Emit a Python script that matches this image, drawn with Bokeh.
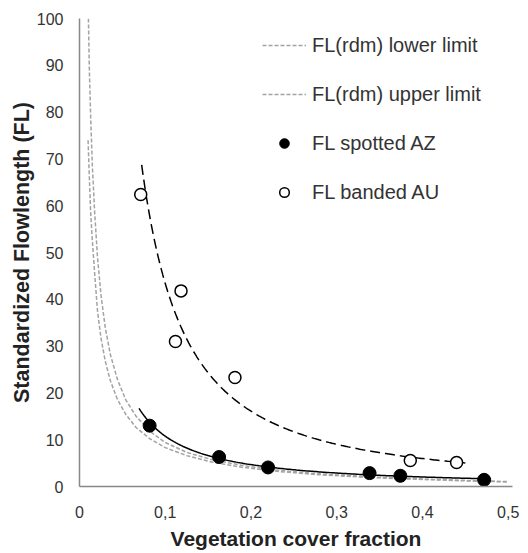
import numpy as np
from bokeh.plotting import figure
from bokeh.models import Range1d, Legend, LegendItem, FixedTicker
from bokeh.embed import file_html
from bokeh.resources import INLINE

# ---- data ----
SPOTTED_X = [0.0818, 0.1628, 0.2199, 0.3383, 0.3742, 0.4719]
SPOTTED_Y = [13.0, 6.3, 4.07, 2.86, 2.29, 1.43]

BANDED_X = [0.0714, 0.1184, 0.1119, 0.1813, 0.3858, 0.4398]
BANDED_Y = [62.4, 41.8, 31.0, 23.3, 5.56, 5.13]

# FL(rdm) limits
UPPER_X = [0.0104, 0.0115, 0.013, 0.015, 0.0177, 0.021, 0.025, 0.03, 0.036, 0.044,
           0.054, 0.066, 0.082, 0.1, 0.125, 0.155, 0.19, 0.23, 0.28, 0.34, 0.4, 0.46, 0.5]
UPPER_Y = [100, 89, 79, 68.5, 58.5, 49, 41, 34, 28.2, 23,
           18.5, 15, 11.8, 9.4, 7.3, 5.7, 4.5, 3.5, 2.7, 2.05, 1.6, 1.25, 1.05]
LOWER_X = [0.0100, 0.0115, 0.013, 0.015, 0.0177, 0.021, 0.025, 0.03, 0.036, 0.044,
           0.054, 0.066, 0.082, 0.1, 0.125, 0.155, 0.19, 0.23, 0.28, 0.34, 0.4, 0.46, 0.5]
LOWER_Y = [74, 66, 58.5, 52.5, 45.5, 37.5, 31.8, 26.8, 22.6, 18.7,
           15.4, 12.6, 10.2, 8.3, 6.6, 5.2, 4.1, 3.25, 2.5, 1.9, 1.5, 1.15, 0.98]

X_TICKS = [0, 0.1, 0.2, 0.3, 0.4, 0.5]
X_TICK_LABELS = ["0", "0,1", "0,2", "0,3", "0,4", "0,5"]
Y_TICKS = [0, 10, 20, 30, 40, 50, 60, 70, 80, 90, 100]

SPOTTED_TREND_RANGE = (0.0694, 0.48)
BANDED_TREND_RANGE = (0.0725, 0.45)


def power_trend(xs, ys, rng, n=200):
    b, lna = np.polyfit(np.log(xs), np.log(ys), 1)
    tx = np.linspace(rng[0], rng[1], n)
    return tx, np.exp(lna) * tx ** b


FONT = "Liberation Sans"

p = figure(width=520, height=552, x_range=Range1d(0, 0.505), y_range=Range1d(0, 100),
           output_backend="svg", toolbar_location=None,
           min_border_left=79, min_border_right=8, min_border_top=18, min_border_bottom=66)
p.outline_line_color = None
p.xgrid.visible = False
p.ygrid.visible = False

grey = "#a3a3a3"
r_low = p.line(LOWER_X, LOWER_Y, line_color=grey, line_width=1.5, line_dash="4 2")
r_up = p.line(UPPER_X, UPPER_Y, line_color=grey, line_width=1.5, line_dash="4 2")

sx, sy = power_trend(SPOTTED_X, SPOTTED_Y, SPOTTED_TREND_RANGE)
p.line(sx, sy, line_color="black", line_width=1.5)
bx, by = power_trend(BANDED_X, BANDED_Y, BANDED_TREND_RANGE)
p.line(bx, by, line_color="black", line_width=1.5, line_dash="10 5")

r_sp = p.scatter(SPOTTED_X, SPOTTED_Y, size=13, fill_color="black", line_color="black")
r_bd = p.scatter(BANDED_X, BANDED_Y, size=12, fill_color="white", line_color="black",
                 line_width=1.5)

for ax in (p.xaxis[0], p.yaxis[0]):
    ax.axis_line_color = "#888888"
    ax.axis_line_width = 1.5
    ax.major_tick_line_color = None
    ax.minor_tick_line_color = None
    ax.major_tick_out = 0
    ax.major_tick_in = 0
    ax.major_label_text_font = FONT
    ax.major_label_text_font_size = "16px"
    ax.major_label_text_color = "#333333"
    ax.axis_label_text_font = FONT
    ax.axis_label_text_font_style = "bold"
    ax.axis_label_text_color = "#222222"

p.xaxis[0].ticker = FixedTicker(ticks=X_TICKS)
p.xaxis[0].major_label_overrides = dict(zip(X_TICKS, X_TICK_LABELS))
p.xaxis[0].axis_label = "Vegetation cover fraction"
p.xaxis[0].axis_label_text_font_size = "21px"
p.xaxis[0].major_label_standoff = 19
p.xaxis[0].axis_label_standoff = 6

p.yaxis[0].ticker = FixedTicker(ticks=Y_TICKS)
p.yaxis[0].axis_label = "Standardized Flowlength (FL)"
p.yaxis[0].axis_label_text_font_size = "21.5px"
p.yaxis[0].major_label_standoff = 16
p.yaxis[0].axis_label_standoff = 0

legend = Legend(items=[
    LegendItem(label="FL(rdm) lower limit", renderers=[r_low]),
    LegendItem(label="FL(rdm) upper limit", renderers=[r_up]),
    LegendItem(label="FL spotted AZ", renderers=[r_sp]),
    LegendItem(label="FL banded AU", renderers=[r_bd]),
], location=(183, 282))
legend.label_text_font = FONT
legend.label_text_font_size = "20px"
legend.label_text_color = "#333333"
legend.background_fill_alpha = 0
legend.border_line_color = None
legend.padding = 0
legend.margin = 0
legend.glyph_width = 44
legend.glyph_height = 24
legend.label_height = 24
legend.spacing = 25
legend.label_standoff = 6
p.add_layout(legend)

open("out.html", "w").write(file_html(p, INLINE))
